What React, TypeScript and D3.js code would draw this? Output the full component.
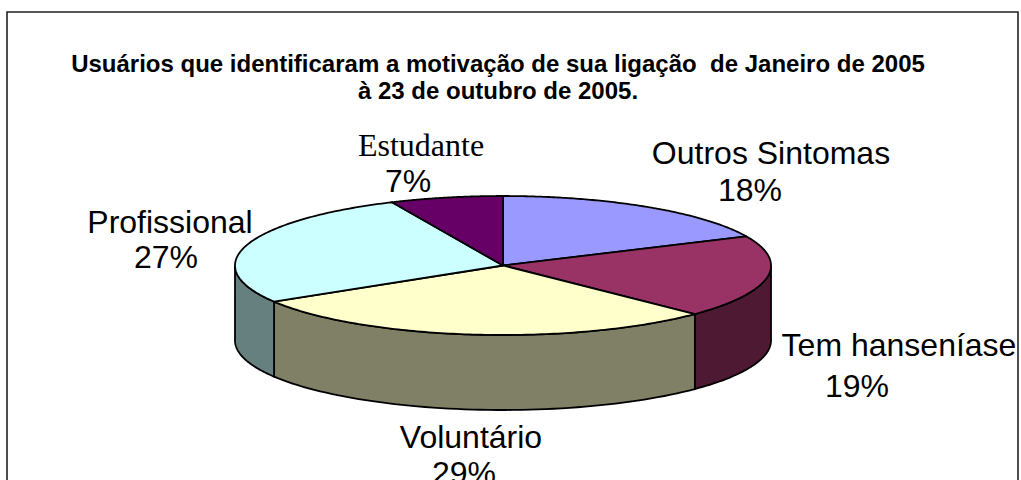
import React from "react";
import * as d3 from "d3";

const categories = ["Outros Sintomas", "Tem hanseníase", "Voluntário", "Profissional", "Estudante"];
const values = [18.1, 19.2, 29.0, 26.9, 6.8];
const topColors = ["#9999FF", "#993366", "#FFFFCC", "#CCFFFF", "#660066"];
const wallColors = ["#666699", "#4D1933", "#808066", "#668080", "#330033"];
const titleLines = [
  "Usuários que identificaram a motivação de sua ligação  de Janeiro de 2005",
  "à 23 de outubro de 2005.",
];

const width = 1021;
const height = 480;
const cx = 503;
const cy = 265.5;
const rx = 268;
const ry = 69.5;
const depth = 75;

// each label: centre x and baseline of name, then of percentage
const labelPos = [
  { x: 771, y: 164, px: 750, py: 201 },
  { x: 899, y: 356, px: 857, py: 397 },
  { x: 471, y: 448, px: 464, py: 484 },
  { x: 170, y: 233, px: 166, py: 268 },
  { x: 421, y: 156, px: 408, py: 192 },
];

const ex = (a: number) => cx + rx * Math.sin(a);
const ey = (a: number) => cy - ry * Math.cos(a);

const line = d3.line();

// wall between two angles, only for the part of the rim facing the viewer
function wallPath(a0: number, a1: number) {
  const from = Math.max(a0, Math.PI / 2);
  const to = Math.min(a1, (3 * Math.PI) / 2);
  if (to <= from) return null;
  const steps = d3.range(0, 61).map((i) => from + ((to - from) * i) / 60);
  const rim = steps.map((a) => [ex(a), ey(a)] as [number, number]);
  const low = steps.map((a) => [ex(a), ey(a) + depth] as [number, number]).reverse();
  return line([...rim, ...low]) + "Z";
}

function slicePath(a0: number, a1: number) {
  const steps = d3.range(0, 121).map((i) => a0 + ((a1 - a0) * i) / 120);
  const rim = steps.map((a) => [ex(a), ey(a)] as [number, number]);
  return line([[cx, cy], ...rim]) + "Z";
}

const sans = "'Liberation Sans', Arial, sans-serif";
const serif = "'Liberation Serif', 'Times New Roman', serif";

const App = () => {
  const arcs = d3.pie<number>().sort(null)(values);

  return (
    <svg
      width={width}
      height={height}
      style={{ position: "fixed", left: 0, top: 0, display: "block", background: "#fff" }}
    >
      <path d={`M7,${height}V12H1018V${height}`} fill="none" stroke="#222" strokeWidth={1.6} />

      <g fontFamily={sans} fontWeight="bold" fontSize={24} textAnchor="middle">
        {titleLines.map((t, i) => (
          <text key={i} x={498} y={71.5 + i * 27} style={{ whiteSpace: "pre" }}>
            {t}
          </text>
        ))}
      </g>

      {arcs.map((d, i) => {
        const p = wallPath(d.startAngle, d.endAngle);
        return p ? <path key={i} d={p} fill={wallColors[i]} stroke="#000" strokeWidth={1.8} /> : null;
      })}
      {arcs.map((d, i) => (
        <path key={i} d={slicePath(d.startAngle, d.endAngle)} fill={topColors[i]} stroke="#000" strokeWidth={1.8} strokeLinejoin="round" />
      ))}

      {categories.map((c, i) => (
        <text key={c} textAnchor="middle" fontSize={32} fill="#000" fontFamily={sans}>
          <tspan x={labelPos[i].x} y={labelPos[i].y} fontFamily={c === "Estudante" ? serif : sans}>{c}</tspan>
          <tspan x={labelPos[i].px} y={labelPos[i].py}>{Math.round(values[i])}%</tspan>
        </text>
      ))}
    </svg>
  );
};

export default App;
